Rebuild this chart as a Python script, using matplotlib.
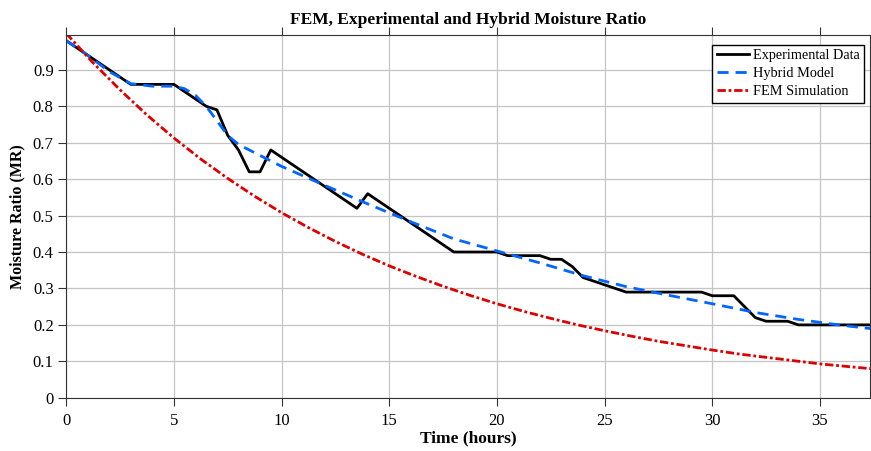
import matplotlib
matplotlib.use("Agg")
import matplotlib.pyplot as plt

plt.rcParams['font.family'] = ['Liberation Serif', 'DejaVu Serif']

# Experimental data (hours, MR)
exp_t = [0, 3, 5, 6.5, 7, 7.5, 8, 8.5, 9, 9.5, 13.5, 14, 18, 20, 20.5, 22, 22.5, 23,
         23.5, 24, 26, 29.5, 30, 31, 32, 32.5, 33.5, 34, 37.33]
exp_mr = [0.98, 0.86, 0.86, 0.80, 0.79, 0.72, 0.68, 0.62, 0.62, 0.68, 0.52, 0.56,
          0.40, 0.40, 0.39, 0.39, 0.38, 0.38, 0.36, 0.33, 0.29, 0.29, 0.28, 0.28,
          0.22, 0.21, 0.21, 0.20, 0.20]

# Hybrid model
hyb_t = [0, 1, 2, 3, 4, 5, 5.5, 6, 6.5, 7, 7.5, 8, 9, 10, 12, 14, 16, 18, 20,
         22, 24, 26, 28, 30, 32, 34, 36, 37.33]
hyb_mr = [0.98, 0.94, 0.895, 0.862, 0.855, 0.855, 0.848, 0.83, 0.80, 0.76, 0.72,
          0.695, 0.665, 0.635, 0.583, 0.532, 0.483, 0.436, 0.403, 0.37, 0.335,
          0.305, 0.281, 0.258, 0.234, 0.215, 0.199, 0.19]

# FEM simulation
fem_t = [0, 1.25, 2.5, 3.75, 5, 6.25, 7.5, 8.75, 10, 11.25, 12.5, 13.75, 15, 16.25,
         17.5, 18.75, 20, 21.25, 22.5, 23.75, 25, 26.25, 27.5, 28.75, 30, 31.25,
         32.5, 33.75, 35, 36.25, 37.33]
fem_mr = [1.0, 0.919, 0.845, 0.776, 0.713, 0.655, 0.602, 0.553, 0.508, 0.467,
          0.429, 0.394, 0.362, 0.333, 0.306, 0.281, 0.258, 0.237, 0.218, 0.200,
          0.184, 0.169, 0.155, 0.143, 0.131, 0.120, 0.111, 0.102, 0.093, 0.086,
          0.080]

fig = plt.figure(figsize=(8.71, 4.51), dpi=100)
ax = fig.add_axes([0.076, 0.118, 0.923, 0.804])

ax.plot(exp_t, exp_mr, color='black', lw=2, label='Experimental Data')
ax.plot(hyb_t, hyb_mr, color='#0066ff', lw=2, linestyle=(0, (4, 2.5)), label='Hybrid Model')
ax.plot(fem_t, fem_mr, color='#dd0000', lw=2, linestyle=(0, (3, 1, 1, 1)), label='FEM Simulation')

ax.set_xlim(0, 37.33)
ax.set_ylim(0, 0.995)
ax.set_xticks(range(0, 36, 5))
ax.set_yticks([0, 0.1, 0.2, 0.3, 0.4, 0.5, 0.6, 0.7, 0.8, 0.9])
ax.set_yticklabels(['0', '0.1', '0.2', '0.3', '0.4', '0.5', '0.6', '0.7', '0.8', '0.9'])
ax.tick_params(labelsize=12, direction='out', top=True, length=6, color='#333333')
ax.tick_params(axis='x', pad=5)
ax.tick_params(axis='y', pad=3)
ax.grid(True, color='#c4c4c4', lw=0.9)
for s in ax.spines.values():
    s.set_color('#333333')

ax.set_title('FEM, Experimental and Hybrid Moisture Ratio', fontsize=12.5, fontweight='bold', pad=8)
ax.set_xlabel('Time (hours)', fontsize=12.5, fontweight='bold', labelpad=1)
ax.set_ylabel('Moisture Ratio (MR)', fontsize=11.5, fontweight='bold', labelpad=5)

leg = ax.legend(loc='upper right', fontsize=10.3, fancybox=False, edgecolor='black',
                handlelength=2.3, borderpad=0.3, labelspacing=0.35, handletextpad=0.25,
                framealpha=1, borderaxespad=0, bbox_to_anchor=(0.9925, 0.9725))
leg.get_frame().set_linewidth(1)

fig.savefig('out.png', dpi=100)
